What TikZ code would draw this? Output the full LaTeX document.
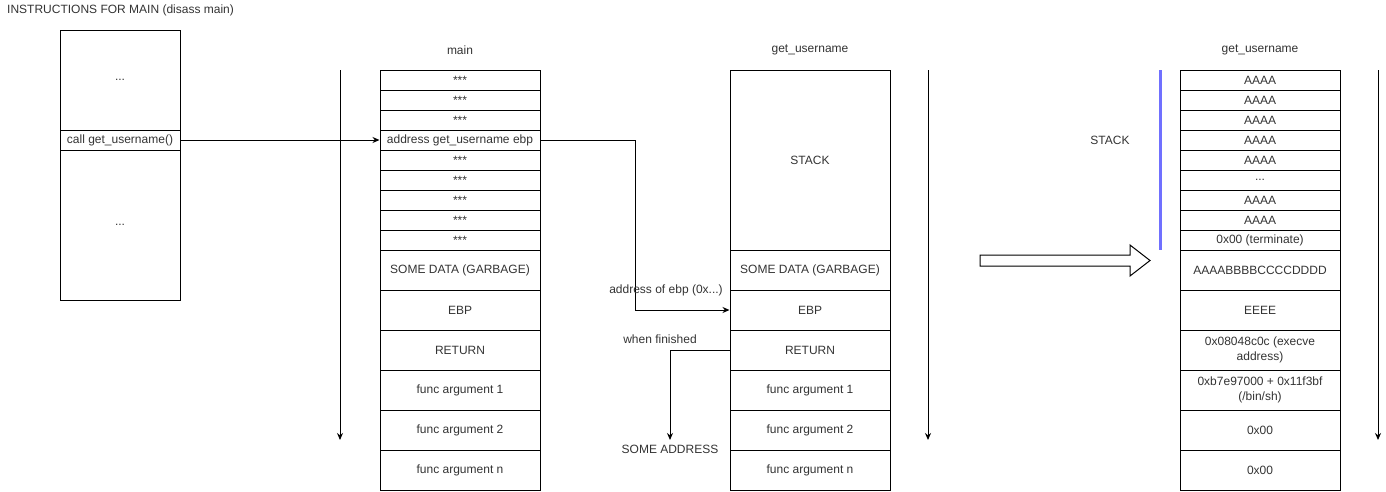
\documentclass[tikz,border=0pt]{standalone}
\usepackage{fontspec}
\setmainfont{Liberation Sans}
\usetikzlibrary{arrows.meta}
\definecolor{txt}{RGB}{51,51,51}
\definecolor{barblue}{RGB}{112,112,255}
\begin{document}
\begin{tikzpicture}[x=1pt,y=-1pt,
  every node/.style={font=\fontsize{12}{14.5}\selectfont, text=txt},
  cell/.style={draw=black, line width=1pt, minimum width=160pt, inner sep=1pt, align=center},
  small/.style={cell, minimum height=20pt},
  big/.style={cell, minimum height=40pt},
  lbl/.style={inner sep=0pt},
  conn/.style={draw=black, line width=1pt},
  arr/.style={conn, -{Stealth[length=7pt,width=6pt]}}]
\useasboundingbox (0,0) rectangle (1386,491);

% title
\node[lbl, anchor=west] (title) at (7,10) {INSTRUCTIONS FOR MAIN (disass main)};

% left instruction box
\node[cell, minimum width=120pt, minimum height=100pt] (ltop) at (120,80) {...};
\node[cell, minimum width=120pt, minimum height=20pt] (lcall) at (120,140) {call get\_username()};
\node[cell, minimum width=120pt, minimum height=150pt] (lbot) at (120,225) {...};

% main stack
\node[lbl] (mainT) at (460,50) {main};
\node[small] (m1) at (460,80) {***};
\node[small] (m2) at (460,100) {***};
\node[small] (m3) at (460,120) {***};
\node[small] (m4) at (460,140) {address get\_username ebp};
\node[small] (m5) at (460,160) {***};
\node[small] (m6) at (460,180) {***};
\node[small] (m7) at (460,200) {***};
\node[small] (m8) at (460,220) {***};
\node[small] (m9) at (460,240) {***};
\node[big] (m10) at (460,270) {SOME DATA (GARBAGE)};
\node[big] (m11) at (460,310) {EBP};
\node[big] (m12) at (460,350) {RETURN};
\node[big] (m13) at (460,390) {func argument 1};
\node[big] (m14) at (460,430) {func argument 2};
\node[big] (m15) at (460,470) {func argument n};

% get_username stack
\node[lbl] (gT) at (810,50) {get\_username};
\node[cell, minimum height=180pt] (gstack) at (810,160) {STACK};
\node[big] (gdata) at (810,270) {SOME DATA (GARBAGE)};
\node[big] (gebp) at (810,310) {EBP};
\node[big] (gret) at (810,350) {RETURN};
\node[big] (ga1) at (810,390) {func argument 1};
\node[big] (ga2) at (810,430) {func argument 2};
\node[big] (gan) at (810,470) {func argument n};

% exploited stack
\node[lbl] (rT) at (1260,50) {get\_username};
\node[small] (r1) at (1260,80) {AAAA};
\node[small] (r2) at (1260,100) {AAAA};
\node[small] (r3) at (1260,120) {AAAA};
\node[small] (r4) at (1260,140) {AAAA};
\node[small] (r5) at (1260,160) {AAAA};
\node[small] (r6) at (1260,180) {...};
\node[small] (r7) at (1260,200) {AAAA};
\node[small] (r8) at (1260,220) {AAAA};
\node[small] (r9) at (1260,240) {0x00 (terminate)};
\node[big] (r10) at (1260,270) {AAAABBBBCCCCDDDD};
\node[big] (r11) at (1260,310) {EEEE};
\node[big] (r12) at (1260,350) {0x08048c0c (execve\\address)};
\node[big] (r13) at (1260,390) {0xb7e97000 + 0x11f3bf\\(/bin/sh)};
\node[big] (r14) at (1260,430) {0x00};
\node[big] (r15) at (1260,470) {0x00};

\node[lbl] (stackT) at (1110,140) {STACK};
\coordinate (bar1) at (1160,70);
\coordinate (bar2) at (1160,250);
\draw[barblue, line width=3pt] (bar1) -- (bar2);

% growth arrows
\coordinate (v1a) at (340,70); \coordinate (v1b) at (340,440);
\coordinate (v2a) at (928,70); \coordinate (v2b) at (928,440);
\coordinate (v3a) at (1378,70); \coordinate (v3b) at (1378,440);
\draw[arr] (v1a) -- (v1b);
\draw[arr] (v2a) -- (v2b);
\draw[arr] (v3a) -- (v3b);

% connectors
\draw[arr] (lcall.east) -- (m4.west);
\draw[arr] (m4.east) -- ++(95,0) |- (gebp.west);
\node[lbl, fill=white, fill opacity=0, text opacity=1] (ebpL) at (666,290) {address of ebp (0x...)};

\coordinate (sa) at (670,440);
\draw[arr] (gret.west) -| (sa);
\node[lbl] (whenL) at (660,339) {when finished};
\node[lbl] (saL) at (670,449) {SOME ADDRESS};

% big hollow arrow
\draw[line width=1pt, fill=white] (980,255) -- (1130,255) -- (1130,245) -- (1150,260.5) -- (1130,276) -- (1130,266) -- (980,266) -- cycle;
\end{tikzpicture}
\end{document}
